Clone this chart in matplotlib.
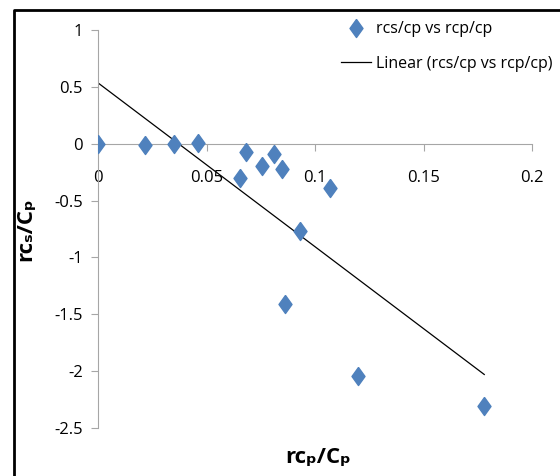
import numpy as np
import matplotlib.pyplot as plt
from matplotlib.lines import Line2D

# data
rcp_cp = [0.0, 0.0217, 0.035, 0.046, 0.068, 0.0654, 0.0756, 0.081, 0.085,
          0.107, 0.093, 0.086, 0.120, 0.178]
rcs_cp = [0.0, -0.01, 0.0, 0.005, -0.07, -0.30, -0.20, -0.09, -0.22,
          -0.39, -0.77, -1.41, -2.04, -2.31]
x_ticks = [0, 0.05, 0.1, 0.15, 0.2]
x_tick_labels = ['0', '0.05', '0.1', '0.15', '0.2']
y_ticks = [1, 0.5, 0, -0.5, -1, -1.5, -2, -2.5]
y_tick_labels = ['1', '0.5', '0', '-0.5', '-1', '-1.5', '-2', '-2.5']

plt.rcParams['font.family'] = ['Open Sans', 'DejaVu Sans']

fig = plt.figure(figsize=(5.6, 4.76), dpi=100)
ax = fig.add_axes([98/560, 1-428/476, (532-98)/560, (428-30)/476])

# black frame around the chart
frame = Line2D([14/560, 14/560, 1.0], [0.0, 1-10/476, 1-10/476],
               transform=fig.transFigure, color='black', lw=2)
fig.add_artist(frame)

diamond = [(0, 1), (0.72, 0), (0, -1), (-0.72, 0), (0, 1)]
ax.plot(rcp_cp, rcs_cp, linestyle='none', marker=diamond, markersize=13,
        color='#4F81BD', label='rcs/cp vs rcp/cp', zorder=3)

# linear trend
k, b = np.polyfit(rcp_cp, rcs_cp, 1)
xs = np.array([min(rcp_cp), max(rcp_cp)])
ax.plot(xs, k*xs + b, color='black', lw=0.9, label='Linear (rcs/cp vs rcp/cp)')

ax.set_xlim(0, 0.2)
ax.set_ylim(-2.5, 1)
ax.set_xticks(x_ticks)
ax.set_xticklabels(x_tick_labels)
ax.set_yticks(y_ticks)
ax.set_yticklabels(y_tick_labels)

for s in ['top', 'right']:
    ax.spines[s].set_visible(False)
ax.spines['bottom'].set_position(('data', 0))
ax.spines['bottom'].set_color('#A6A6A6')
ax.spines['left'].set_color('#A6A6A6')
ax.tick_params(axis='both', colors='#A6A6A6', labelcolor='black', labelsize=12)
ax.tick_params(axis='y', length=5, pad=6)
ax.tick_params(axis='x', length=5, pad=14, direction='out')

ax.set_ylabel('rcₛ/Cₚ', fontsize=16, fontweight='bold')
ax.yaxis.set_label_coords(-0.143, 0.5)
ax.set_xlabel('rcₚ/Cₚ', fontsize=16, fontweight='bold', va='center')
ax.xaxis.set_label_coords(0.507, -0.075)

ax.legend(loc='upper right', bbox_to_anchor=(1.08, 1.058), frameon=False,
          fontsize=11.5, handlelength=1.9, labelspacing=1.15, handletextpad=0.3)

fig.savefig('out.png', dpi=100)
